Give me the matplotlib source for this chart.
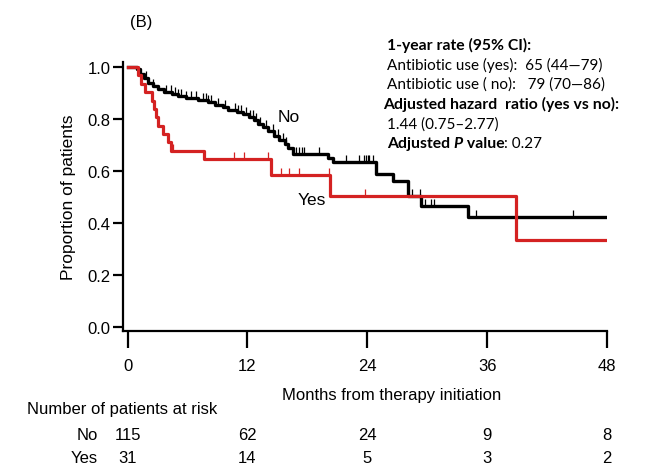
import numpy as np
import matplotlib
matplotlib.use("Agg")
import matplotlib.pyplot as plt
import matplotlib.transforms as mtransforms

# ---- data ----
no_times = [0, 0.9, 1.2, 1.6, 2.0, 2.5, 3.0, 3.6, 4.4, 5.0, 5.8, 7.0, 8.0, 8.7, 9.5,
            10.1, 11.0, 11.6, 12.2, 12.7, 13.1, 13.6, 14.1, 14.7, 15.2, 15.8, 16.1,
            16.6, 20.1, 20.6, 24.9, 26.6, 28.1, 29.4, 34.1]
no_surv = [1.0, 0.991, 0.974, 0.957, 0.94, 0.926, 0.915, 0.904, 0.897, 0.89, 0.882,
           0.874, 0.865, 0.853, 0.845, 0.836, 0.827, 0.818, 0.808, 0.795, 0.782, 0.768,
           0.752, 0.735, 0.72, 0.705, 0.69, 0.665, 0.65, 0.633, 0.59, 0.56, 0.503,
           0.464, 0.424]
no_censor = [1.87, 2.54, 3.87, 4.37, 4.71, 5.04, 5.38, 5.88, 6.38, 6.88, 7.55, 7.88,
             8.05, 8.38, 9.05, 9.72, 10.72, 11.05, 11.39, 11.89, 12.22, 12.56, 12.89,
             13.23, 13.9, 14.56, 15.06, 15.56, 15.9, 16.9, 17.2, 17.5, 17.7, 19.2,
             21.9, 23.2, 23.7, 23.9, 24.1, 24.2, 24.6, 28.5, 29.3, 29.8, 30.4, 30.7,
             34.9, 44.6]

yes_times = [0, 1.0, 1.3, 1.7, 2.4, 2.6, 2.8, 3.0, 3.5, 4.0, 4.3, 7.6, 14.4, 20.3, 38.9]
yes_surv = [1.0, 0.968, 0.935, 0.903, 0.871, 0.839, 0.806, 0.774, 0.742, 0.71, 0.677,
            0.645, 0.586, 0.503, 0.335]
yes_censor = [4.5, 10.7, 11.7, 14.06, 15.4, 16.2, 17.2, 20.2, 23.8]

t_end = 48
x_ticks = [0, 12, 24, 36, 48]
y_ticks = [0.0, 0.2, 0.4, 0.6, 0.8, 1.0]
risk_no = [115, 62, 24, 9, 8]
risk_yes = [31, 14, 5, 3, 2]

info_lines = [
    ("1-year rate (95% CI):", "bold"),
    ("Antibiotic use (yes):  65 (44\u201479)", "normal"),
    ("Antibiotic use ( no):   79 (70\u201486)", "normal"),
    ("Adjusted hazard  ratio (yes vs no):", "bold"),
    ("1.44 (0.75\u20132.77)", "normal"),
]

# ---- plot ----
plt.rcParams['font.family'] = ['Liberation Sans', 'DejaVu Sans']
fig = plt.figure(figsize=(6.52, 4.77), dpi=100)
ax = fig.add_axes([0.189, 0.3036, 0.742, 0.5648])

def surv_at(times, surv, t):
    idx = np.searchsorted(times, t, side='right') - 1
    return np.asarray(surv)[idx]

for times, surv, cens, col, lw in [
        (no_times, no_surv, no_censor, 'black', 2.4),
        (yes_times, yes_surv, yes_censor, '#d42222', 2.3)]:
    tt = list(times) + [t_end]
    ss = list(surv) + [surv[-1]]
    ax.step(tt, ss, where='post', color=col, lw=lw, zorder=3)
    cs = surv_at(times, surv, np.array(cens))
    ax.vlines(cens, cs, cs + 0.027, color=col, lw=0.9, zorder=3)

ax.set_xlim(-0.44, 48)
ax.set_ylim(-0.016, 1.02)
ax.set_xticks(x_ticks)
ax.set_yticks(y_ticks)
ax.set_yticklabels([f"{v:.1f}" for v in y_ticks])
for s in ['top', 'right']:
    ax.spines[s].set_visible(False)
for s in ['left', 'bottom']:
    ax.spines[s].set_linewidth(1.6)
ax.tick_params(axis='x', direction='out', length=12, width=1.6, labelsize=12, pad=7)
ax.tick_params(axis='y', direction='out', length=7, width=1.6, labelsize=12, pad=2)
ax.set_ylabel("Proportion of patients", fontsize=12.5, labelpad=8)

ax.text(15.0, 0.81, "No", fontsize=12.5, va='center')
ax.text(17.0, 0.49, "Yes", fontsize=12.5, va='center')

fig.text(0.6, 0.170, "Months from therapy initiation", fontsize=12, ha='center', va='center')
fig.text(0.2, 0.953, "(B)", fontsize=12, ha='left', va='center')

# info block
fam = ['Lato', 'DejaVu Sans']
y0 = 0.905
dy = 0.0415
for i, (txt, w) in enumerate(info_lines):
    fs = 11.3 if w == 'bold' else 11
    xx = 0.587 if i == 3 else 0.593
    fig.text(xx, y0 - i * dy, txt, fontsize=fs, fontweight=w, family=fam,
             ha='left', va='center')
yy = y0 - len(info_lines) * dy
fig.canvas.draw()
r = fig.canvas.get_renderer()
xcur = 0.593
for txt, w, st in [("Adjusted ", 'bold', 'normal'), ("P", 'bold', 'italic'),
                   (" value", 'bold', 'normal'), (": 0.27", 'normal', 'normal')]:
    t = fig.text(xcur, yy, txt, fontsize=11.3 if w == 'bold' else 11, fontweight=w,
                 fontstyle=st, family=fam, va='center')
    xcur = t.get_window_extent(r).x1 / fig.bbox.width

# risk table
fig.text(0.041, 0.141, "Number of patients at risk", fontsize=12, ha='left', va='center')
fig.text(0.150, 0.086, "No", fontsize=12, ha='right', va='center')
fig.text(0.150, 0.038, "Yes", fontsize=12, ha='right', va='center')
blend = mtransforms.blended_transform_factory(ax.transData, fig.transFigure)
for xt, a, b in zip(x_ticks, risk_no, risk_yes):
    fig.text(xt, 0.086, str(a), fontsize=12, ha='center', va='center', transform=blend)
    fig.text(xt, 0.038, str(b), fontsize=12, ha='center', va='center', transform=blend)

fig.savefig("out.png", dpi=100)
